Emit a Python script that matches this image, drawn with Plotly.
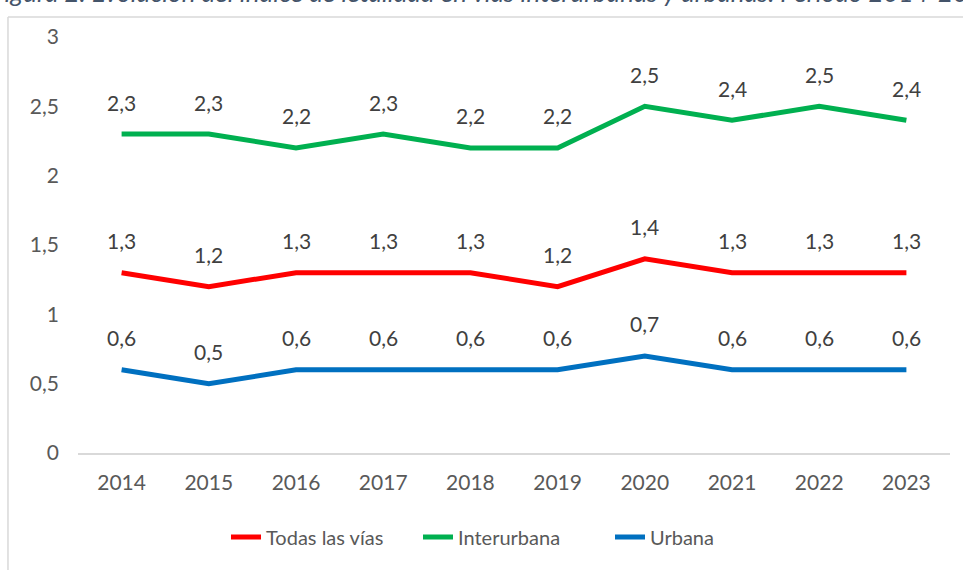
import plotly.graph_objects as go

years = ["2014", "2015", "2016", "2017", "2018", "2019", "2020", "2021", "2022", "2023"]
todas = [1.3, 1.2, 1.3, 1.3, 1.3, 1.2, 1.4, 1.3, 1.3, 1.3]
interurbana = [2.3, 2.3, 2.2, 2.3, 2.2, 2.2, 2.5, 2.4, 2.5, 2.4]
urbana = [0.6, 0.5, 0.6, 0.6, 0.6, 0.6, 0.7, 0.6, 0.6, 0.6]
y_ticks = [0, 0.5, 1, 1.5, 2, 2.5, 3]

series = [
    ("Todas las vías", todas, "#FF0000"),
    ("Interurbana", interurbana, "#00B050"),
    ("Urbana", urbana, "#0070C0"),
]

FONT = "Lato, Carlito, Calibri, sans-serif"

fig = go.Figure()
annotations = []
for name, vals, color in series:
    fig.add_trace(go.Scatter(
        x=years, y=vals, name=name, mode="lines",
        line=dict(color=color, width=5),
    ))
    # category axis: annotation x given as category index
    for i, v in enumerate(vals):
        annotations.append(dict(
            x=i, y=v, xref="x", yref="y", yshift=32, yanchor="middle", showarrow=False,
            text=f"{v:.1f}".replace(".", ","),
            font=dict(size=21, color="#404040", family=FONT),
        ))

# caption that is clipped at the top of the page
annotations.append(dict(
    xref="paper", yref="paper", x=-0.102, y=1.108, xanchor="left", yanchor="middle",
    showarrow=False,
    text="<i>Figura 2. Evolución del índice de letalidad en vías interurbanas y urbanas. Periodo 2014-2023</i>",
    font=dict(size=26, color="#44546A", family=FONT),
))

fig.update_layout(
    width=963, height=570,
    margin=dict(l=78, r=13, t=37, b=117),
    plot_bgcolor="white", paper_bgcolor="white",
    separators=",.",
    font=dict(family=FONT, size=21, color="#595959"),
    showlegend=True,
    legend=dict(orientation="h", x=0.5, xanchor="center", y=-0.202, yanchor="middle",
                font=dict(size=20, color="#595959"), tracegroupgap=0,
                entrywidth=147, entrywidthmode="pixels"),
    xaxis=dict(type="category", range=[-0.5, 9.5], showgrid=False, showline=True,
               linecolor="#D9D9D9", linewidth=2, ticks="", ticklabelstandoff=10,
               tickfont=dict(size=21, color="#595959")),
    yaxis=dict(range=[0, 3], tickvals=y_ticks, showgrid=False, zeroline=False,
               showline=False, ticks="", ticklabelstandoff=18,
               tickfont=dict(size=21, color="#595959")),
    annotations=annotations,
    shapes=[
        dict(type="line", xref="paper", yref="paper", x0=-0.0803, x1=1.1, y0=1.048, y1=1.048,
             line=dict(color="#D9D9D9", width=1.5)),
        dict(type="line", xref="paper", yref="paper", x0=-0.0803, x1=-0.0803, y0=1.048, y1=-0.4,
             line=dict(color="#D9D9D9", width=1.5)),
    ],
)

fig.write_html("out.html", config={"displayModeBar": False},
               post_script="document.body.style.margin='0';")
